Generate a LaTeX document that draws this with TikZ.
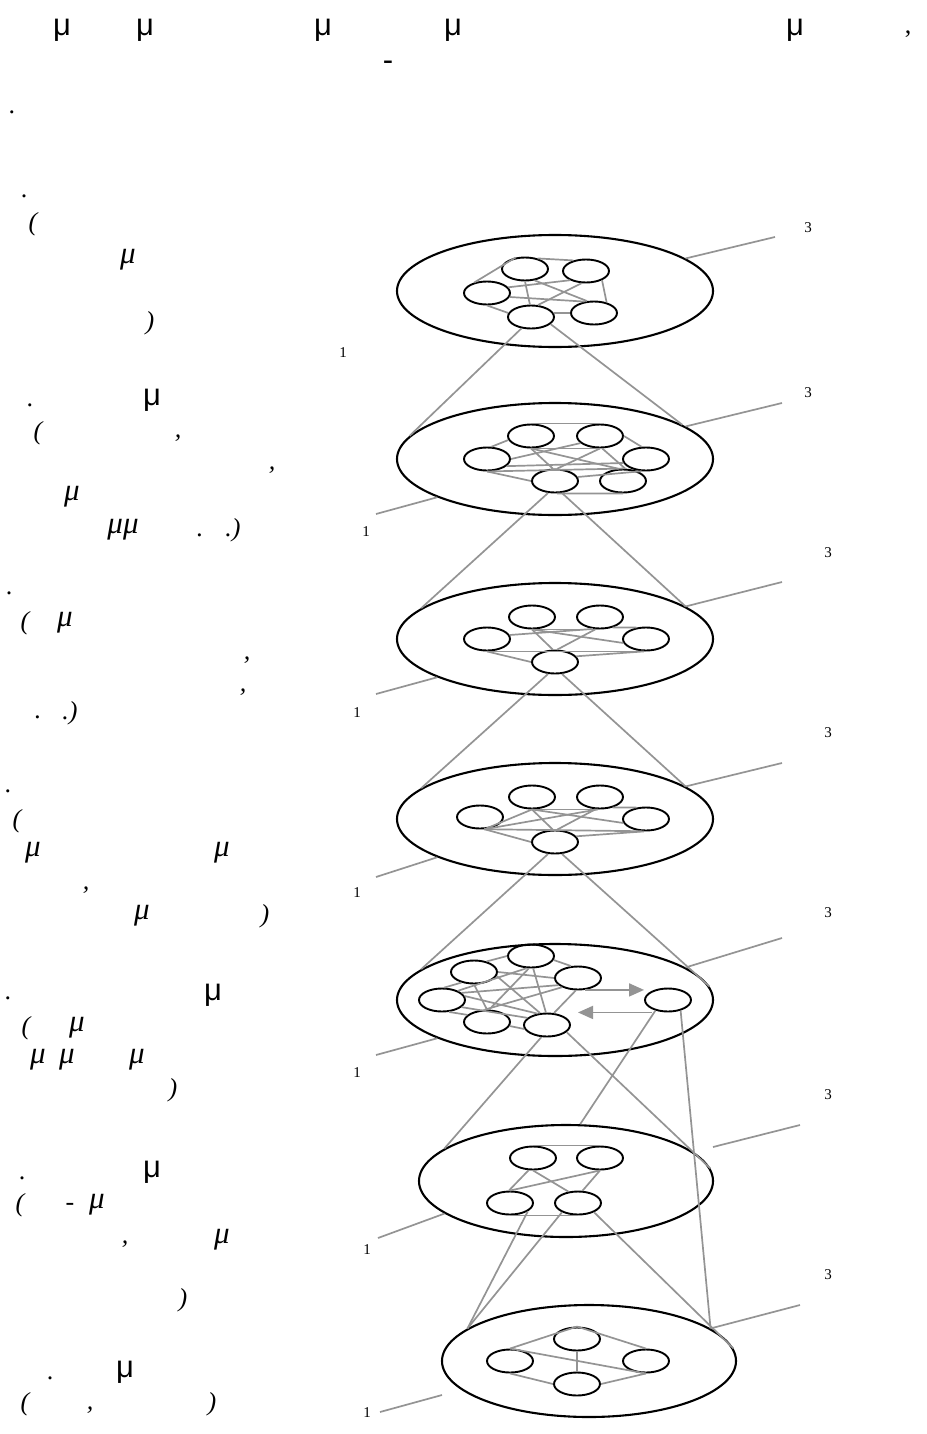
\documentclass[tikz,border=0pt]{standalone}
\usepackage{fontspec}
\setmainfont{Liberation Serif}
\newfontfamily\grsans{Liberation Sans}
\usetikzlibrary{shapes.geometric,arrows.meta,calc}
\begin{document}
\begin{tikzpicture}[x=1pt,y=-1pt,
  big/.style={ellipse, draw=black, line width=2.1pt, minimum width=316pt, minimum height=112pt, inner sep=0pt},
  bigs/.style={big, minimum width=294pt},
  sm/.style={ellipse, draw=black, line width=1.9pt, minimum width=46pt, minimum height=23pt, inner sep=0pt},
  ln/.style={draw=black!42, line width=1.7pt},
  arr/.style={ln, -{Triangle[length=15pt,width=13pt]}},
  up/.style={font=\grsans\fontsize{31}{35}\selectfont, inner sep=0pt},
  rm/.style={font=\fontsize{26}{30}\selectfont, inner sep=0pt},
  it/.style={font=\itshape\fontsize{26}{30}\selectfont, inner sep=0pt},
  itm/.style={font=\itshape\fontsize{31}{35}\selectfont, inner sep=0pt},
  num/.style={font=\fontsize{15}{17}\selectfont, inner sep=0pt}
]
\useasboundingbox[fill=white] (0,0) rectangle (926,1434);

% ---------------- header ----------------
\node[up] (h1) at (62,30) {μ};
\node[up] (h2) at (145,30) {μ};
\node[up] (h3) at (323,30) {μ};
\node[up] (h4) at (453,30) {μ};
\node[up] (h5) at (795,30) {μ};
\node[rm] (h6) at (908,34) {,};
\node[up] (h7) at (388,66) {-};
\node[rm] (h8) at (12,112) {.};

% ---------------- left texts ----------------
\node[rm] (p1a) at (24,196) {.};
\node[it] (p1b) at (33,224) {(};
\node[itm] (p1c) at (128,260) {μ};
\node[it] (p1d) at (150,323) {)};

\node[rm] (p2a) at (30,405) {.};
\node[up] (p2b) at (152,400) {μ};
\node[it] (p2c) at (38,433) {(};
\node[it] (p2d) at (178,438) {,};
\node[it] (p2e) at (272,470) {,};
\node[itm] (p2f) at (72,497) {μ};
\node[itm] (p2g) at (123,530) {μμ};
\node[it] (p2h) at (200,535) {.};
\node[it] (p2i) at (233,530) {.)};

\node[rm] (p3a) at (9,593) {.};
\node[it] (p3b) at (25,623) {(};
\node[itm] (p3c) at (65,623) {μ};
\node[it] (p3d) at (247,660) {,};
\node[it] (p3e) at (243,692) {,};
\node[it] (p3f) at (38,717) {.};
\node[it] (p3g) at (70,713) {.)};

\node[rm] (p4a) at (8,791) {.};
\node[it] (p4b) at (17,821) {(};
\node[itm] (p4c) at (33,853) {μ};
\node[itm] (p4d) at (222,853) {μ};
\node[it] (p4e) at (86,890) {,};
\node[itm] (p4f) at (142,916) {μ};
\node[it] (p4g) at (265,916) {)};

\node[rm] (p5a) at (8,998) {.};
\node[up] (p5b) at (213,995) {μ};
\node[it] (p5c) at (26,1028) {(};
\node[itm] (p5d) at (77,1028) {μ};
\node[itm] (p5e) at (38,1060) {μ};
\node[itm] (p5f) at (67,1060) {μ};
\node[itm] (p5g) at (137,1060) {μ};
\node[it] (p5h) at (173,1090) {)};

\node[rm] (p6a) at (22,1178) {.};
\node[up] (p6b) at (152,1172) {μ};
\node[it] (p6c) at (20,1205) {(};
\node[it] (p6d) at (70,1207) {-};
\node[itm] (p6e) at (97,1205) {μ};
\node[it] (p6f) at (125,1244) {,};
\node[itm] (p6g) at (222,1240) {μ};
\node[it] (p6h) at (183,1300) {)};

\node[rm] (p7a) at (50,1378) {.};
\node[up] (p7b) at (125,1372) {μ};
\node[it] (p7c) at (25,1404) {(};
\node[it] (p7d) at (90,1410) {,};
\node[it] (p7e) at (212,1404) {)};

% ---------------- level 1 ----------------
\node[big] (L1) at (555,291) {};
\node[sm] (a1) at (525,269) {};
\node[sm] (b1) at (586,271) {};
\node[sm] (c1) at (487,293) {};
\node[sm] (d1) at (531,317) {};
\node[sm] (e1) at (594,313) {};
\draw[ln] (c1.140) -- (a1.130);
\draw[ln] (a1.40) -- (b1.140);
\draw[ln] (c1.15) -- (b1.210);
\draw[ln] (c1.-10) -- (e1.130);
\draw[ln] (a1.-90) -- (d1.95);
\draw[ln] (a1.-50) -- (e1.120);
\draw[ln] (b1.-110) -- (d1.60);
\draw[ln] (b1.-30) -- (e1.40);
\draw[ln] (c1.-90) -- (d1.170);
\draw[ln] (d1.10) -- (e1.180);

% ---------------- level 2 ----------------
\node[big] (L2) at (555,459) {};
\node[sm] (a2) at (531,436) {};
\node[sm] (b2) at (600,436) {};
\node[sm] (c2) at (487,459) {};
\node[sm] (d2) at (646,459) {};
\node[sm] (e2) at (555,481) {};
\node[sm] (f2) at (623,481) {};
\draw[ln] (a2.90) -- (b2.90);
\draw[ln] (c2.70) -- (a2.190);
\draw[ln] (a2.-90) -- (b2.-90);
\draw[ln] (a2.-90) -- (e2.100);
\draw[ln] (a2.-90) -- (f2.110);
\draw[ln] (c2.0) -- (b2.200);
\draw[ln] (c2.-90) -- (f2.90);
\draw[ln] (c2.-20) -- (d2.190);
\draw[ln] (b2.-90) -- (e2.80);
\draw[ln] (b2.-80) -- (f2.80);
\draw[ln] (b2.0) -- (d2.110);
\draw[ln] (c2.-90) -- (e2.180);
\draw[ln] (e2.10) -- (d2.-110);
\draw[ln] (e2.-80) -- (f2.-90);

% ---------------- level 3 ----------------
\node[big] (L3) at (555,639) {};
\node[sm] (a3) at (532,617) {};
\node[sm] (b3) at (600,617) {};
\node[sm] (c3) at (487,639) {};
\node[sm] (d3) at (646,639) {};
\node[sm] (e3) at (555,662) {};
\draw[ln] (a3.-90) -- (b3.-90);
\draw[ln] (a3.-90) -- (e3.100);
\draw[ln] (a3.-90) -- (d3.190);
\draw[ln] (c3.10) -- (b3.-120);
\draw[ln] (c3.-90) -- (d3.-90);
\draw[ln] (b3.-110) -- (e3.80);
\draw[ln] (b3.-40) -- (d3.130);
\draw[ln] (c3.-90) -- (e3.180);
\draw[ln] (e3.15) -- (d3.-100);

% ---------------- level 4 ----------------
\node[big] (L4) at (555,819) {};
\node[sm] (a4) at (532,797) {};
\node[sm] (b4) at (600,797) {};
\node[sm] (c4) at (480,817) {};
\node[sm] (d4) at (646,819) {};
\node[sm] (e4) at (555,842) {};
\draw[ln] (a4.-90) -- (e4.100);
\draw[ln] (a4.-90) -- (b4.-90);
\draw[ln] (c4.-70) -- (a4.-90);
\draw[ln] (c4.-70) -- (b4.-100);
\draw[ln] (c4.-70) -- (d4.-110);
\draw[ln] (c4.-70) -- (e4.180);
\draw[ln] (a4.-90) -- (d4.190);
\draw[ln] (b4.-110) -- (e4.80);
\draw[ln] (e4.15) -- (d4.-100);
\draw[ln] (b4.-40) -- (d4.130);

% ---------------- level 5 ----------------
\node[big] (L5) at (555,1000) {};
\node[sm] (a5) at (531,956) {};
\node[sm] (b5) at (474,972) {};
\node[sm] (c5) at (578,978) {};
\node[sm] (d5) at (442,1000) {};
\node[sm] (e5) at (668,1000) {};
\node[sm] (f5) at (487,1022) {};
\node[sm] (g5) at (547,1025) {};
\draw[ln] (a5.180) -- (b5.40);
\draw[ln] (a5.-10) -- (c5.120);
\draw[ln] (a5.-110) -- (d5.30);
\draw[ln] (a5.-100) -- (f5.80);
\draw[ln] (a5.-80) -- (g5.95);
\draw[ln] (b5.0) -- (c5.180);
\draw[ln] (b5.-10) -- (g5.120);
\draw[ln] (b5.-90) -- (f5.90);
\draw[ln] (d5.80) -- (b5.220);
\draw[ln] (d5.20) -- (c5.200);
\draw[ln] (d5.10) -- (g5.130);
\draw[ln] (d5.-60) -- (f5.160);
\draw[ln] (d5.-20) -- (g5.160);
\draw[ln] (c5.-100) -- (g5.60);
\draw[ln] (c5.-150) -- (f5.100);
\draw[ln] (f5.-10) -- (g5.190);
\draw[arr] (c5.-60) -- (c5.-60 -| e5.west);
\draw[arr] (e5.-150 |- e5.south) -- (c5.south |- e5.south);

% ---------------- level 6 ----------------
\node[bigs] (L6) at (566,1181) {};
\node[sm] (a6) at (533,1158) {};
\node[sm] (b6) at (600,1158) {};
\node[sm] (c6) at (510,1203) {};
\node[sm] (d6) at (578,1203) {};
\draw[ln] (a6.90) -- (b6.90);
\draw[ln] (a6.-110) -- (c6.95);
\draw[ln] (a6.-90) -- (d6.130);
\draw[ln] (b6.-90) -- (c6.90);
\draw[ln] (b6.-90) -- (d6.70);
\draw[ln] (c6.-90) -- (d6.-90);

% ---------------- level 7 ----------------
\node[bigs] (L7) at (589,1361) {};
\node[sm] (a7) at (577,1339) {};
\node[sm] (b7) at (510,1361) {};
\node[sm] (c7) at (646,1361) {};
\node[sm] (d7) at (577,1384) {};
\draw[ln] (b7.90) -- (a7.90);
\draw[ln] (a7.90) -- (c7.90);
\draw[ln] (b7.90) -- (c7.-90);
\draw[ln] (a7.-90) -- (d7.90);
\draw[ln] (b7.-90) -- (d7.180);
\draw[ln] (d7.0) -- (c7.-90);

% ---------------- connections between levels ----------------
\draw[ln] (d1.-130) -- (L2.171);
\draw[ln] (d1.-20) -- (L2.15);
\draw[ln] (e2.-120) -- (L3.167);
\draw[ln] (e2.-60) -- (L3.14);
\draw[ln] (e3.-120) -- (L4.167);
\draw[ln] (e3.-60) -- (L4.14);
\draw[ln] (e4.-120) -- (L5.167);
\draw[ln] (e4.-60) -- (L5.5);
\draw[ln] (g5.-115) -- (L6.165);
\draw[ln] (g5.-20) -- (L6.5);
\draw[ln] (e5.-140) -- (L6.76);
\draw[ln] (e5.-40) -- (L7.15);
\draw[ln] (c6.-25) -- (L7.165);
\draw[ln] (d6.-150) -- (L7.165);
\draw[ln] (d6.-30) -- (L7.5);

% ---------------- right labels ----------------
\coordinate (r1) at (775,237);
\coordinate (r2) at (782,403);
\coordinate (r3) at (782,582);
\coordinate (r4) at (782,763);
\coordinate (r5) at (782,938);
\coordinate (s6) at (713,1147);
\coordinate (r6) at (800,1125);
\coordinate (r7) at (800,1305);
\draw[ln] (L1.14) -- (r1);
\draw[ln] (L2.14) -- (r2);
\draw[ln] (L3.14) -- (r3);
\draw[ln] (L4.14) -- (r4);
\draw[ln] (L5.14) -- (r5);
\draw[ln] (s6) -- (r6);
\draw[ln] (L7.15) -- (r7);
\node[num] (t1) at (808,228) {3};
\node[num] (t2) at (808,393) {3};
\node[num] (t3) at (828,553) {3};
\node[num] (t4) at (828,733) {3};
\node[num] (t5) at (828,913) {3};
\node[num] (t6) at (828,1095) {3};
\node[num] (t7) at (828,1275) {3};

% ---------------- left labels ----------------
\coordinate (l2) at (376,514);
\coordinate (l3) at (376,694);
\coordinate (l4) at (376,877);
\coordinate (l5) at (376,1055);
\coordinate (l6) at (378,1238);
\coordinate (m7) at (442,1395);
\coordinate (l7) at (380,1412);
\draw[ln] (L2.198) -- (l2);
\draw[ln] (L3.198) -- (l3);
\draw[ln] (L4.198) -- (l4);
\draw[ln] (L5.198) -- (l5);
\draw[ln] (L6.195) -- (l6);
\draw[ln] (m7) -- (l7);
\node[num] (o1) at (343,353) {1};
\node[num] (o2) at (366,532) {1};
\node[num] (o3) at (357,713) {1};
\node[num] (o4) at (357,893) {1};
\node[num] (o5) at (357,1073) {1};
\node[num] (o6) at (367,1250) {1};
\node[num] (o7) at (367,1413) {1};
\end{tikzpicture}
\end{document}
